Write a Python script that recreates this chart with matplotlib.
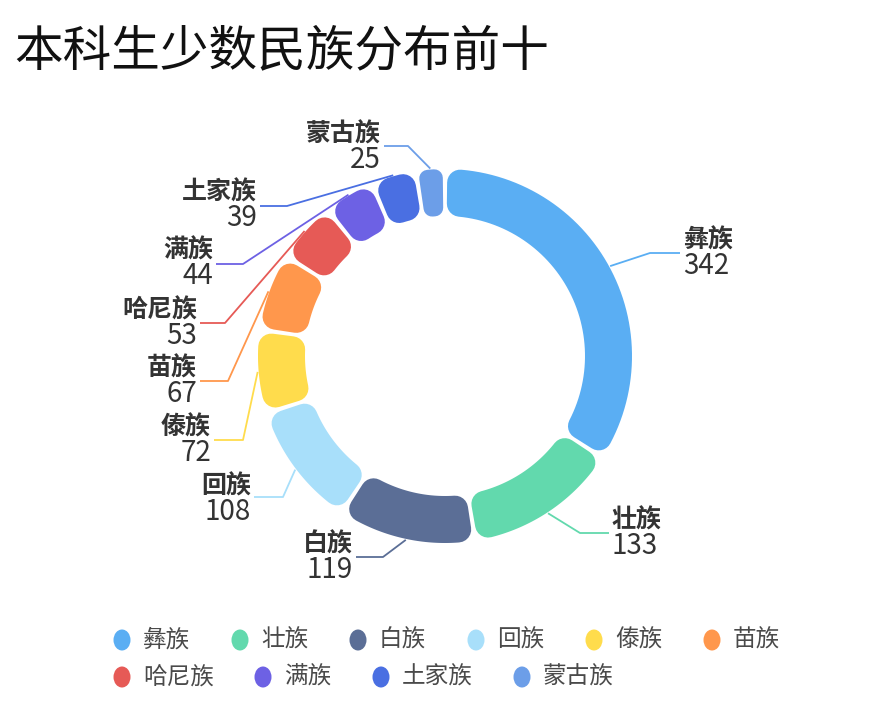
import numpy as np
import matplotlib
matplotlib.use("Agg")
import matplotlib.pyplot as plt
from matplotlib.patches import Polygon, Ellipse

plt.rcParams["font.family"] = ["Noto Sans CJK SC", "DejaVu Sans"]

title = "本科生少数民族分布前十"
names = ["彝族", "壮族", "白族", "回族", "傣族", "苗族", "哈尼族", "满族", "土家族", "蒙古族"]
values = [342, 133, 119, 108, 72, 67, 53, 44, 39, 25]
colors = ["#5aaef3", "#62d9ad", "#5b6e96", "#a8dffa", "#ffdc4c",
          "#ff974c", "#e65a56", "#6d61e4", "#4a6fe2", "#6c9ee8"]

# label layout (pixels): elbow point, text edge x, name y, side
label_layout = [
    ((650, 253), 683, 240, "right"),
    ((580, 533), 612, 520, "right"),
    ((383, 557), 353, 544, "left"),
    ((283, 497), 251, 486, "left"),
    ((243, 440), 211, 427, "left"),
    ((228, 381), 197, 368, "left"),
    ((225, 323), 197, 310, "left"),
    ((243, 264), 213, 250, "left"),
    ((287, 206), 257, 192, "left"),
    ((408, 146), 381, 134, "left"),
]

W, H = 890, 710
cx, cy = 445, 356
r_in, r_out = 140, 187
pad = np.radians(1.4)
corner = 13
px2pt = 0.72

fig = plt.figure(figsize=(W / 100, H / 100), dpi=100)
ax = fig.add_axes([0, 0, 1, 1])
ax.set_xlim(0, W)
ax.set_ylim(H, 0)
ax.axis("off")


def xy(r, t):
    return cx + r * np.cos(t), cy - r * np.sin(t)


def rounded_sector(t1, t2, color):
    # inset shape, later grown back by a round-joined stroke
    d = min(corner, (t2 - t1) * r_in / 2 * 0.92, (r_out - r_in) / 2 * 0.9)
    ri, ro = r_in + d, r_out - d
    ai, ao = np.arcsin(d / ri), np.arcsin(d / ro)
    ti = np.linspace(t1 + ai, t2 - ai, 60)
    to = np.linspace(t2 - ao, t1 + ao, 60)
    pts = [xy(ri, t) for t in ti] + [xy(ro, t) for t in to]
    ax.add_patch(Polygon(pts, closed=True, facecolor=color, edgecolor=color,
                         linewidth=2 * d * px2pt, joinstyle="round"))


total = sum(values)
cum = 0
for name, v, c, lay in zip(names, values, colors, label_layout):
    a_start = np.pi / 2 - 2 * np.pi * cum / total
    a_end = np.pi / 2 - 2 * np.pi * (cum + v) / total
    cum += v
    rounded_sector(a_end + pad / 2, a_start - pad / 2, c)

    mid = (a_start + a_end) / 2
    p0 = xy(r_out + 1, mid)
    (ex, ey), tx, ny, side = lay
    hx = tx - 3 if side == "right" else tx + 3
    ax.plot([p0[0], ex, hx], [p0[1], ey, ey], color=c, lw=1.3,
            solid_capstyle="butt")
    ha = "left" if side == "right" else "right"
    ax.text(tx, ny, name, ha=ha, va="center", fontsize=18,
            fontweight="bold", color="#333333")
    ax.text(tx, ny + 26, str(v), ha=ha, va="center", fontsize=20,
            color="#333333")

# legend
lx0, lx, row = 122, 122, 0
rows_y = [640, 677]
for i, (name, c) in enumerate(zip(names, colors)):
    if i == 6:
        lx, row = lx0, 1
    y = rows_y[row]
    ax.add_patch(Ellipse((lx, y), 17, 21, facecolor=c, edgecolor="none"))
    ax.text(lx + 21, y, name, ha="left", va="center", fontsize=17,
            color="#4a4a4a")
    lx += 72 + 23 * len(name)

ax.text(14, 52, title, ha="left", va="center", fontsize=35,
        fontweight="light", color="#111111")

fig.savefig("out.png", dpi=100)
